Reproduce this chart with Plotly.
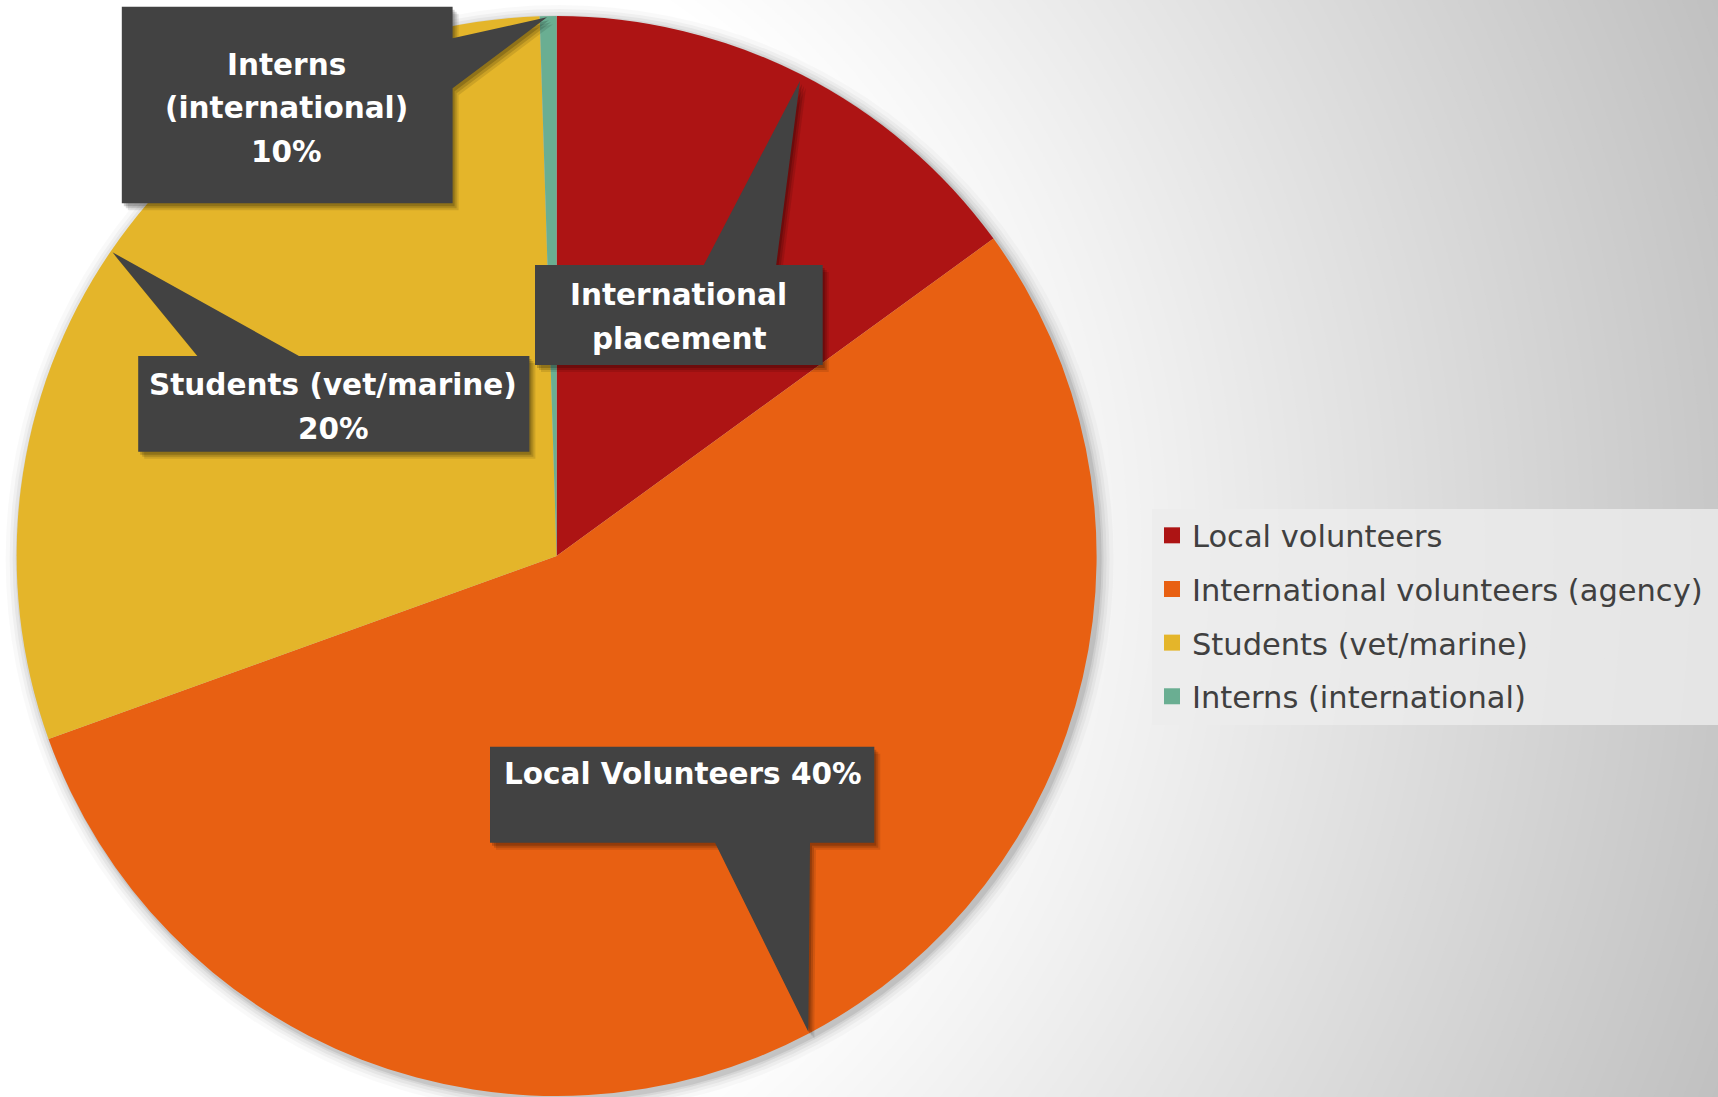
import plotly.graph_objects as go

W, H = 1718, 1097

# ---------------- data ----------------
categories = ["Local volunteers", "International volunteers (agency)",
              "Students (vet/marine)", "Interns (international)"]
shares = [15, 54.5, 30, 0.5]
colors = ["#AD1414", "#E86012", "#E4B52A", "#6AAE92"]

# callout label texts (lines) as printed on the chart
callout_lines = [
    ["Interns", "(international)", "10%"],
    ["International", "placement"],
    ["Students (vet/marine)", "20%"],
    ["Local Volunteers 40%"],
]

# ---------------- helpers ----------------
def px(x):
    return x / W

def py(y):
    return 1 - y / H

def path_from(points, dx=0, dy=0):
    s = "M " + " L ".join(f"{px(x + dx):.5f},{py(y + dy):.5f}" for x, y in points) + " Z"
    return s

# callout outlines (pixel geometry of the label boxes with pointers)
callout_shapes = [
    [(121.8, 6.7), (452.6, 6.7), (452.6, 38.3), (547, 17.3), (452.6, 88.3),
     (452.6, 203.3), (121.8, 203.3)],
    [(535, 265), (703.8, 265), (800, 81), (776.2, 265), (822.7, 265),
     (822.7, 365), (535, 365)],
    [(138.2, 356), (197.5, 356), (112.5, 252.3), (299, 356), (529.4, 356),
     (529.4, 451.7), (138.2, 451.7)],
    [(490, 746.7), (874.3, 746.7), (874.3, 842.7), (810, 842.7),
     (808.3, 1031.7), (715, 842.7), (490, 842.7)],
]
callout_centers = [
    (286.5, [65, 108, 151.7]),
    (678.7, [294.7, 338.7]),
    (333, [385, 429]),
    (683, [774.2]),
]

# ---------------- figure ----------------
fig = go.Figure()

pie_cx, pie_cy, pie_r = 556.6, 556.0, 540.0
fig.add_trace(go.Pie(
    labels=categories, values=shares,
    marker=dict(colors=colors, line=dict(width=0)),
    sort=False, direction="clockwise", rotation=0,
    textinfo="none", showlegend=False,
    domain=dict(x=[px(pie_cx - pie_r), px(pie_cx + pie_r)],
                y=[py(pie_cy + pie_r), py(pie_cy - pie_r)]),
))

# legend entries (one group each so the rows get the spacing of the original)
for i, (name, col) in enumerate(zip(categories, colors)):
    fig.add_trace(go.Scatter(
        x=[None], y=[None], mode="markers", name=name,
        marker=dict(symbol="square", size=16, color=col),
        legendgroup=f"g{i}", showlegend=True, hoverinfo="skip",
    ))

shapes = []
# radial background gradient
bcx, bcy = 300, 550
for g in range(193, 256):
    R = 663 + (255 - g) / 0.0728
    shapes.append(dict(type="circle", xref="paper", yref="paper", layer="below",
                       x0=px(bcx - R), x1=px(bcx + R), y0=py(bcy + R), y1=py(bcy - R),
                       fillcolor=f"rgb({g},{g},{g})", line=dict(width=0)))
# legend panel
shapes.append(dict(type="rect", xref="paper", yref="paper", layer="below",
                   x0=px(1152), x1=1.0, y0=py(725), y1=py(509),
                   fillcolor="rgba(236,236,236,0.8)", line=dict(width=0)))
# soft pie shadow
for k, a in [(14, 0.025), (10, 0.035), (7, 0.045), (4, 0.06), (2, 0.08)]:
    R = pie_r + k
    ox, oy = 3, 3
    shapes.append(dict(type="circle", xref="paper", yref="paper", layer="below",
                       x0=px(pie_cx + ox - R), x1=px(pie_cx + ox + R),
                       y0=py(pie_cy + oy + R), y1=py(pie_cy + oy - R),
                       fillcolor=f"rgba(0,0,0,{a})", line=dict(width=0)))
# callouts: soft shadow + box
for pts in callout_shapes:
    for (ox, oy, a) in [(6, 7, 0.10), (4, 5, 0.14), (2, 3, 0.18)]:
        shapes.append(dict(type="path", xref="paper", yref="paper", layer="above",
                           path=path_from(pts, ox, oy), fillcolor=f"rgba(0,0,0,{a})",
                           line=dict(width=0)))
for pts in callout_shapes:
    shapes.append(dict(type="path", xref="paper", yref="paper", layer="above",
                       path=path_from(pts), fillcolor="#424242",
                       line=dict(width=0)))

annotations = []
for lines, (cx, ys) in zip(callout_lines, callout_centers):
    for text, yy in zip(lines, ys):
        annotations.append(dict(
            text=text, x=px(cx), y=py(yy), xref="paper", yref="paper",
            xanchor="center", yanchor="middle", showarrow=False,
            font=dict(family="DejaVu Sans", size=29.5, color="white", weight="bold"),
        ))

fig.update_layout(
    width=W, height=H,
    margin=dict(l=0, r=0, t=0, b=0),
    paper_bgcolor="rgb(192,192,192)",
    plot_bgcolor="rgba(0,0,0,0)",
    xaxis=dict(visible=False), yaxis=dict(visible=False),
    shapes=shapes, annotations=annotations,
    legend=dict(
        x=px(1152), y=py(509), xanchor="left", yanchor="top",
        bgcolor="rgba(0,0,0,0)", borderwidth=0,
        font=dict(family="DejaVu Sans", size=30.5, color="#404040"),
        tracegroupgap=11, traceorder="grouped",
    ),
    showlegend=True,
)

fig.write_html("out.html",
               config={"displayModeBar": False},
               post_script="document.body.style.margin='0';document.body.style.overflow='hidden';")
